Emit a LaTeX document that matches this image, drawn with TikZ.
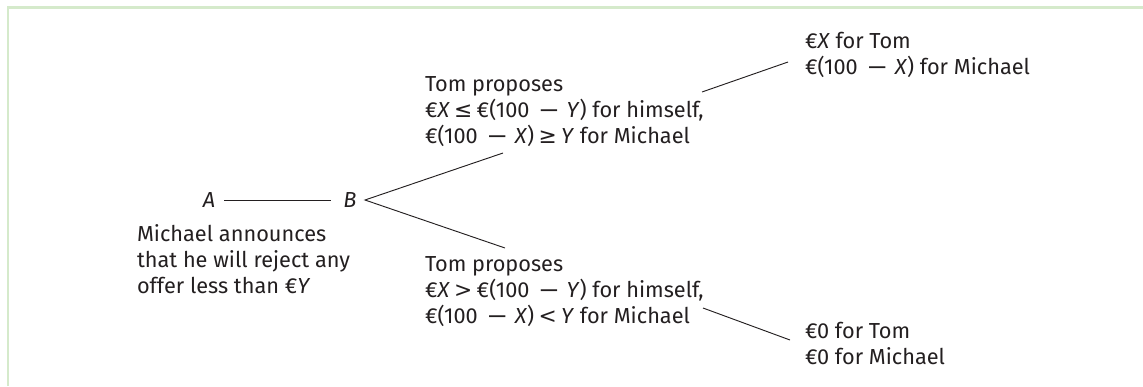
\documentclass[tikz,border=0pt]{standalone}
\usepackage{fontspec}
\setmainfont{Fira Sans}
\newfontfamily\symf{DejaVu Sans}
\newcommand{\mminus}{\hspace{0.4em}\scalebox{1.2}[1]{\symf −}\hspace{0.3em}}
\newcommand{\rel}[1]{\hspace{0.2em}{\symf #1}\hspace{0.2em}}
\definecolor{framegreen}{HTML}{D5EACB}
\definecolor{ink}{HTML}{231F20}
\begin{document}
\begin{tikzpicture}[x=0.75pt,y=-0.75pt,
  lbl/.style={inner sep=0pt,outer sep=0pt,align=left,anchor=base west,text=ink,
    font=\fontsize{16.3}{19.5}\selectfont},
  letter/.style={inner sep=0pt,outer sep=3pt,anchor=base,text=ink,
    font=\fontsize{16.3}{19.5}\selectfont\itshape},
  edge/.style={draw=ink,line width=0.7pt}]
\useasboundingbox (0,0) rectangle (1143,386);
\draw[framegreen,line width=2.2pt] (8,386) -- (8,7.5) -- (1143,7.5);
% nodes
\node[letter] (A) at (209,207) {A};
\node[letter] (B) at (350,207) {B};
\coordinate (Bfork) at (365,200);
\node[lbl] (note) at (137,293) {Michael announces\\that he will reject any\\offer less than €\textit{Y}};
\node[lbl] (up) at (425,143) {Tom proposes\\€\textit{X}\rel{≤}€(100\mminus\textit{Y}) for himself,\\€(100\mminus\textit{X})\rel{≥}\textit{Y} for Michael};
\node[lbl] (down) at (425,323) {Tom proposes\\€\textit{X}\rel{>}€(100\mminus\textit{Y}) for himself,\\€(100\mminus\textit{X})\rel{<}\textit{Y} for Michael};
\node[lbl] (win) at (805,74) {€\textit{X} for Tom\\€(100\mminus\textit{X}) for Michael};
\node[lbl] (zero) at (805,364) {€0 for Tom\\€0 for Michael};
% connector ends
\coordinate (upIn) at (503,153);
\coordinate (downIn) at (505,248);
\coordinate (upOut) at (702,92);
\coordinate (winIn) at (788,62);
\coordinate (downOut) at (703,308);
\coordinate (zeroIn) at (790,340);
% connectors
\draw[edge] (A.east |- 0,200) ++(5,0) -- ([xshift=-6pt]B.west |- 0,200);
\draw[edge] (upIn) -- (Bfork) -- (downIn);
\draw[edge] (upOut) -- (winIn);
\draw[edge] (downOut) -- (zeroIn);
\end{tikzpicture}
\end{document}
